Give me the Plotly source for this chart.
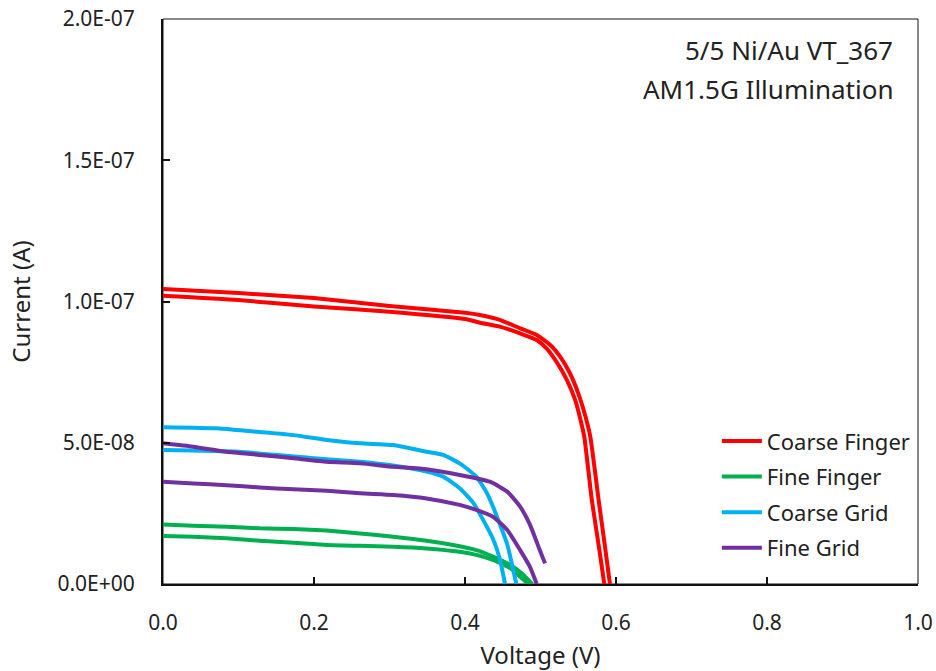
import numpy as np
import plotly.graph_objects as go

# I-V sweeps under AM1.5G illumination: two devices per contact layout.
# Voltage in V, current in units of 1e-8 A.
series_names = ["Coarse Finger", "Fine Finger", "Coarse Grid", "Fine Grid"]
series_colors = ["#FF0000", "#00B050", "#00B0F0", "#7030A0"]

coarse_finger_a_v = [0, 0.1, 0.2, 0.3, 0.4, 0.42, 0.446, 0.473, 0.495, 0.513, 0.526, 0.539, 0.55, 0.559, 0.566, 0.577, 0.586, 0.592]
coarse_finger_a_i = [10.44, 10.3, 10.12, 9.84, 9.6, 9.52, 9.35, 9.05, 8.81, 8.46, 8.05, 7.46, 6.75, 5.98, 5.21, 2.97, 1.2, 0]
coarse_finger_b_v = [0, 0.1, 0.2, 0.3, 0.4, 0.42, 0.446, 0.473, 0.495, 0.508, 0.521, 0.535, 0.546, 0.552, 0.558, 0.568, 0.578, 0.5845]
coarse_finger_b_i = [10.2, 10.05, 9.82, 9.64, 9.38, 9.25, 9.11, 8.87, 8.64, 8.34, 7.87, 7.22, 6.51, 5.92, 5.21, 2.97, 1.2, 0]

fine_finger_a_v = [0, 0.04, 0.084, 0.128, 0.173, 0.217, 0.261, 0.305, 0.349, 0.384, 0.415, 0.437, 0.46, 0.475, 0.489]
fine_finger_a_i = [2.11, 2.06, 2.03, 1.97, 1.95, 1.89, 1.79, 1.67, 1.53, 1.38, 1.2, 0.97, 0.67, 0.38, 0]
fine_finger_b_v = [0, 0.04, 0.084, 0.128, 0.173, 0.217, 0.261, 0.305, 0.349, 0.393, 0.415, 0.437, 0.46, 0.473, 0.484]
fine_finger_b_i = [1.7, 1.67, 1.62, 1.53, 1.46, 1.38, 1.35, 1.32, 1.26, 1.14, 1.03, 0.85, 0.56, 0.26, 0]

coarse_grid_a_v = [0, 0.071, 0.098, 0.173, 0.217, 0.261, 0.305, 0.349, 0.371, 0.393, 0.415, 0.429, 0.437, 0.445, 0.456, 0.468]
coarse_grid_a_i = [5.55, 5.51, 5.45, 5.27, 5.1, 4.98, 4.92, 4.68, 4.57, 4.27, 3.8, 3.22, 2.74, 2.2, 1.4, 0]
coarse_grid_b_v = [0, 0.1, 0.2, 0.261, 0.3, 0.349, 0.371, 0.393, 0.411, 0.424, 0.437, 0.446, 0.453]
coarse_grid_b_i = [4.74, 4.68, 4.45, 4.33, 4.21, 3.98, 3.8, 3.39, 2.87, 2.27, 1.6, 0.9, 0]

fine_grid_a_v = [0, 0.04, 0.084, 0.128, 0.173, 0.217, 0.261, 0.305, 0.349, 0.393, 0.433, 0.456, 0.473, 0.486, 0.499, 0.506]
fine_grid_a_i = [4.98, 4.86, 4.68, 4.57, 4.45, 4.33, 4.27, 4.15, 4.06, 3.86, 3.62, 3.27, 2.74, 2.1, 1.2, 0.73]
fine_grid_b_v = [0, 0.04, 0.084, 0.128, 0.173, 0.217, 0.261, 0.305, 0.349, 0.393, 0.415, 0.437, 0.456, 0.473, 0.486, 0.495]
fine_grid_b_i = [3.62, 3.56, 3.5, 3.42, 3.35, 3.3, 3.21, 3.15, 3.03, 2.8, 2.62, 2.38, 1.91, 1.2, 0.61, 0]

curves = [
    (0, coarse_finger_a_v, coarse_finger_a_i),
    (0, coarse_finger_b_v, coarse_finger_b_i),
    (1, fine_finger_a_v, fine_finger_a_i),
    (1, fine_finger_b_v, fine_finger_b_i),
    (2, coarse_grid_a_v, coarse_grid_a_i),
    (2, coarse_grid_b_v, coarse_grid_b_i),
    (3, fine_grid_a_v, fine_grid_a_i),
    (3, fine_grid_b_v, fine_grid_b_i),
]

x_ticks = [0, 0.2, 0.4, 0.6, 0.8, 1.0]
x_tick_labels = ["0.0", "0.2", "0.4", "0.6", "0.8", "1.0"]
y_ticks = [0, 5e-8, 1e-7, 1.5e-7, 2e-7]
y_tick_labels = ["0.0E+00", "5.0E-08", "1.0E-07", "1.5E-07", "2.0E-07"]

FONT = "Noto Sans"

fig = go.Figure()
shown = set()
for idx, v, i in curves:
    fig.add_trace(go.Scatter(
        x=v,
        y=np.array(i) * 1e-8,
        mode="lines",
        name=series_names[idx],
        legendgroup=series_names[idx],
        showlegend=idx not in shown,
        line=dict(color=series_colors[idx], width=4, shape="spline", smoothing=0.5),
        hoverinfo="skip",
    ))
    shown.add(idx)

axis_common = dict(
    showgrid=False, zeroline=False, showline=True, linewidth=2, linecolor="#111",
    ticks="inside", ticklen=7, tickwidth=1.5, tickcolor="#111", automargin=False,
    tickfont=dict(family=FONT, size=21, color="#222"),
)

fig.update_xaxes(
    range=[0, 1], tickvals=x_ticks, ticktext=x_tick_labels, ticklabelstandoff=19,
    title=dict(text="Voltage (V)", font=dict(family=FONT, size=24, color="#222"), standoff=13),
    **axis_common,
)
fig.update_yaxes(
    range=[0, 2e-7], tickvals=y_ticks, ticktext=y_tick_labels, ticklabelstandoff=22,
    title=dict(text="Current (A)", font=dict(family=FONT, size=24, color="#222"), standoff=20),
    **axis_common,
)

# thin frame closing the top and right sides of the plot area
fig.add_shape(type="rect", xref="paper", yref="paper", x0=0, y0=0, x1=1, y1=1,
              line=dict(color="#111", width=1), layer="below")

fig.add_annotation(text="5/5 Ni/Au VT_367", xref="paper", yref="paper", x=0.97, y=0.945,
                   xanchor="right", yanchor="middle", showarrow=False,
                   font=dict(family=FONT, size=26, color="#222"))
fig.add_annotation(text="AM1.5G Illumination", xref="paper", yref="paper", x=0.97, y=0.876,
                   xanchor="right", yanchor="middle", showarrow=False,
                   font=dict(family=FONT, size=26, color="#222"))

fig.update_layout(
    width=936, height=671,
    margin=dict(l=163, r=18, t=19, b=87, pad=0, autoexpand=False),
    paper_bgcolor="white", plot_bgcolor="white",
    font=dict(family=FONT, color="#222"),
    showlegend=True,
    legend=dict(x=0.7336, y=0.2899, xanchor="left", yanchor="top",
                font=dict(family=FONT, size=22, color="#222"),
                tracegroupgap=4, bgcolor="rgba(0,0,0,0)", itemwidth=40),
)

fig.write_html("out.html")
